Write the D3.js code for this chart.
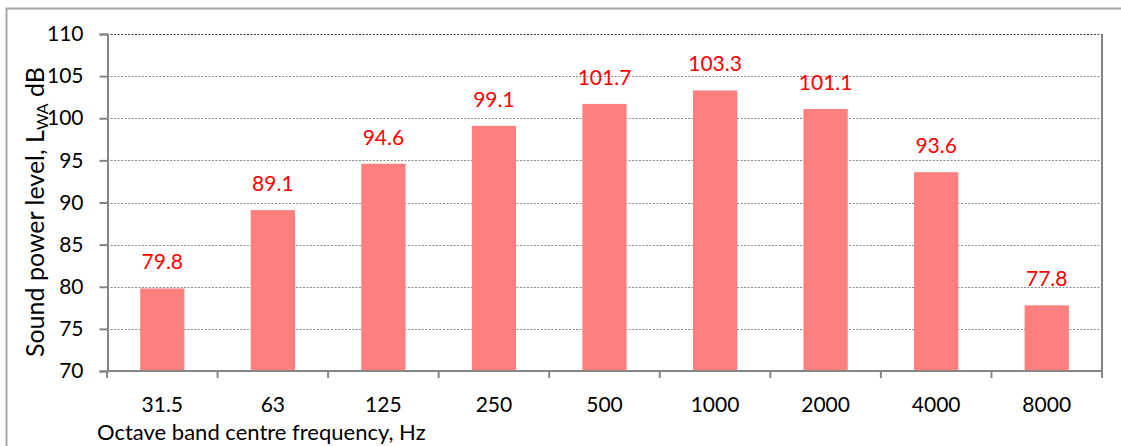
<!DOCTYPE html>
<html>
<head>
<meta charset="utf-8">
<script src="https://cdn.jsdelivr.net/npm/d3@7"></script>
<style>
  body { margin: 0; background: #fff; }
  text { font-family: Lato, "Open Sans", sans-serif; }
</style>
</head>
<body>
<div id="chart"></div>
<script>
const width = 1121;
const height = 446;

// octave band data
const bands = ["31.5", "63", "125", "250", "500", "1000", "2000", "4000", "8000"];
const levels = [79.8, 89.1, 94.6, 99.1, 101.7, 103.3, 101.1, 93.6, 77.8];
const yTicks = [70, 75, 80, 85, 90, 95, 100, 105, 110];

const plotLeft = 107, plotTop = 34, plotRight = 1102, plotBottom = 371;

const svg = d3.select("div#chart").append("svg")
    .attr("width", width)
    .attr("height", height);

// outer chart border
svg.append("path")
    .attr("d", `M6.5,${height} V8.5 H${width}`)
    .attr("fill", "none")
    .attr("stroke", "#a6a6a6")
    .attr("stroke-width", 2);

const x = d3.scaleBand().domain(bands).range([plotLeft, plotRight]).paddingInner(0.6).paddingOuter(0.3);
const y = d3.scaleLinear().domain([70, 110]).range([plotBottom, plotTop]);

// gridlines
svg.append("g")
    .selectAll("line")
    .data(yTicks.filter(d => d > 70))
    .join("line")
    .attr("x1", plotLeft)
    .attr("x2", plotRight)
    .attr("y1", d => Math.round(y(d)) + 0.5)
    .attr("y2", d => Math.round(y(d)) + 0.5)
    .attr("stroke", d => d === 110 ? "#404040" : "#8c8c8c")
    .attr("stroke-width", 1.2)
    .attr("stroke-dasharray", "2,1.5");

// bars
svg.append("g")
    .selectAll("rect")
    .data(levels)
    .join("rect")
    .attr("x", (d, i) => x(bands[i]))
    .attr("width", x.bandwidth())
    .attr("y", d => y(d))
    .attr("height", d => y(70) - y(d))
    .attr("fill", "#ff7f7f");

// value labels
svg.append("g")
    .selectAll("text")
    .data(levels)
    .join("text")
    .attr("x", (d, i) => x(bands[i]) + x.bandwidth() / 2)
    .attr("y", d => y(d) - 19)
    .attr("text-anchor", "middle")
    .attr("fill", "#ff0000")
    .attr("font-size", 21)
    .text(d => d.toFixed(1));

// y axis
const yAxis = svg.append("g")
    .attr("transform", `translate(${plotLeft + 0.5},0)`)
    .call(d3.axisLeft(y).tickValues(yTicks).tickSize(8).tickPadding(16));
yAxis.selectAll("line, path").attr("stroke", "#868686").attr("stroke-width", 2);
yAxis.selectAll("text").attr("font-size", 21).attr("fill", "#000").attr("font-family", "Lato");

// right border of plot area
svg.append("line")
    .attr("x1", plotRight).attr("x2", plotRight)
    .attr("y1", plotTop).attr("y2", plotBottom + 7)
    .attr("stroke", "#868686")
    .attr("stroke-width", 2);

// x axis baseline and ticks between bands
const xg = svg.append("g");
xg.append("line")
    .attr("x1", plotLeft).attr("x2", plotRight)
    .attr("y1", plotBottom).attr("y2", plotBottom)
    .attr("stroke", "#868686").attr("stroke-width", 2);
xg.selectAll("line.tk")
    .data(d3.range(bands.length + 1))
    .join("line")
    .attr("class", "tk")
    .attr("x1", i => plotLeft + i * (plotRight - plotLeft) / bands.length)
    .attr("x2", i => plotLeft + i * (plotRight - plotLeft) / bands.length)
    .attr("y1", plotBottom).attr("y2", plotBottom + 7)
    .attr("stroke", "#868686").attr("stroke-width", 2);
xg.selectAll("text")
    .data(bands)
    .join("text")
    .attr("x", d => x(d) + x.bandwidth() / 2)
    .attr("y", 412)
    .attr("text-anchor", "middle")
    .attr("font-size", 21)
    .text(d => d);

// axis titles
svg.append("text")
    .attr("x", 97)
    .attr("y", 440)
    .attr("font-size", 22)
    .text("Octave band centre frequency, Hz");

const yt = svg.append("text")
    .attr("transform", "translate(44,212) rotate(-90)")
    .attr("text-anchor", "middle")
    .attr("font-size", 25);
yt.append("tspan").text("Sound power level, L");
yt.append("tspan").attr("font-size", 16).attr("dy", 4).text("WA");
yt.append("tspan").attr("dy", -4).text(" dB");
</script>
</body>
</html>
